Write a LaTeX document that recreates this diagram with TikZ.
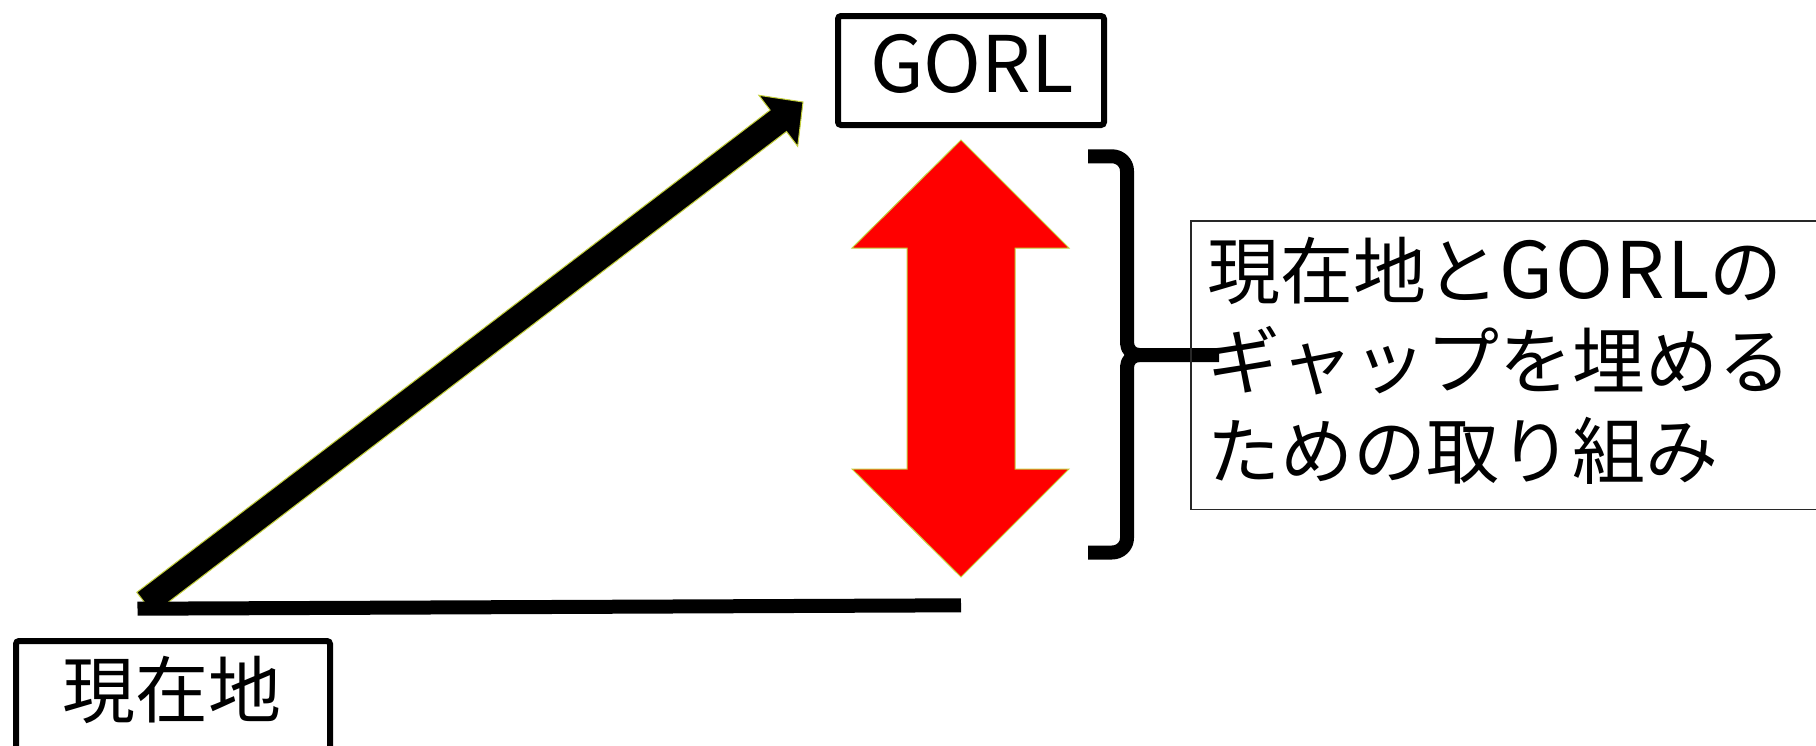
\documentclass[tikz,border=0pt]{standalone}
\usepackage{fontspec}
\setmainfont{Noto Sans CJK JP}
\definecolor{rim}{RGB}{196,208,60}
\definecolor{boxline}{RGB}{40,40,40}
\newcommand{\wideLatin}[1]{{\fontsize{39}{45}\selectfont\addfontfeature{LetterSpace=3}#1}}
\tikzset{
  px/.style={x=0.5pt,y=-0.5pt},
  heavy/.style={line width=3pt,rounded corners=1.5pt},
  shapearrow/.style={draw=rim,line width=0.5pt,line join=miter},
  bar/.style={line width=7pt,line cap=butt},
  bracketline/.style={line width=7pt,line cap=butt,line join=round},
  bigtext/.style={font=\fontsize{36.5}{45}\selectfont,inner sep=0pt},
}
\begin{document}
\begin{tikzpicture}[px]
\useasboundingbox (0,0) rectangle (1816,745);
\clip (0,0) rectangle (1816,745);
% GORL box
\node[heavy,draw,minimum width=133pt,minimum height=54.5pt,inner sep=0pt] (gorl) at (971,70.5) {};
\node[inner sep=0pt,font=\fontsize{39}{45}\selectfont] (gorltext) at (972,64) {GORL};
% current position box (open at bottom)
\coordinate (cbl) at (16,770);
\coordinate (ctl) at (16,641);
\coordinate (ctr) at (330,641);
\coordinate (cbr) at (330,770);
\draw[heavy] (cbl) -- (ctl) -- (ctr) -- (cbr);
\node[bigtext] (genzai) at (172,690) {現在地};
% black shape arrow
\coordinate (t1) at (136.8,592.3);
\coordinate (n1) at (770.1,110.1);
\coordinate (c1) at (758.9,95.3);
\coordinate (tip) at (803,102);
\coordinate (c2) at (797.7,146.3);
\coordinate (n2) at (786.5,131.5);
\coordinate (t2) at (153.2,613.7);
\filldraw[shapearrow,fill=black] (t1) -- (n1) -- (c1) -- (tip) -- (c2) -- (n2) -- (t2) -- cycle;
% base line
\coordinate (basel) at (137.5,608.7);
\coordinate (baser) at (961,605.3);
\draw[bar] (basel) -- (baser);
% red double arrow
\coordinate (rt) at (961,140);
\coordinate (rb) at (961,577);
\filldraw[shapearrow,fill=red] (rt) -- (1069,248) -- (1015,248) -- (1015,469) -- (1069,469) -- (rb) -- (852,469) -- (907,469) -- (907,248) -- (852,248) -- cycle;
% bracket
\coordinate (bt) at (1088,156.3);
\coordinate (bb) at (1088,552.5);
\coordinate (bm) at (1139,355);
\coordinate (be) at (1219,355);
\draw[bracketline] (bt) -- (1112,156.3) to[out=0,in=90] (1127,171) -- (1127,343) to[out=-90,in=180] (bm) -- (be);
\draw[bracketline] (bb) -- (1112,552.5) to[out=0,in=-90] (1127,538) -- (1127,367) to[out=90,in=180] (bm);
% text box (open to the right)
\draw[boxline,line width=0.8pt] (1830,220.7) -- (1190.7,220.7) -- (1190.7,509.3) -- (1830,509.3);
\node[bigtext,align=left,anchor=west] (gaptext) at (1207,361) {現在地と\wideLatin{GORL}の\\ギャップを埋める\\ための取り組み};
\end{tikzpicture}
\end{document}
